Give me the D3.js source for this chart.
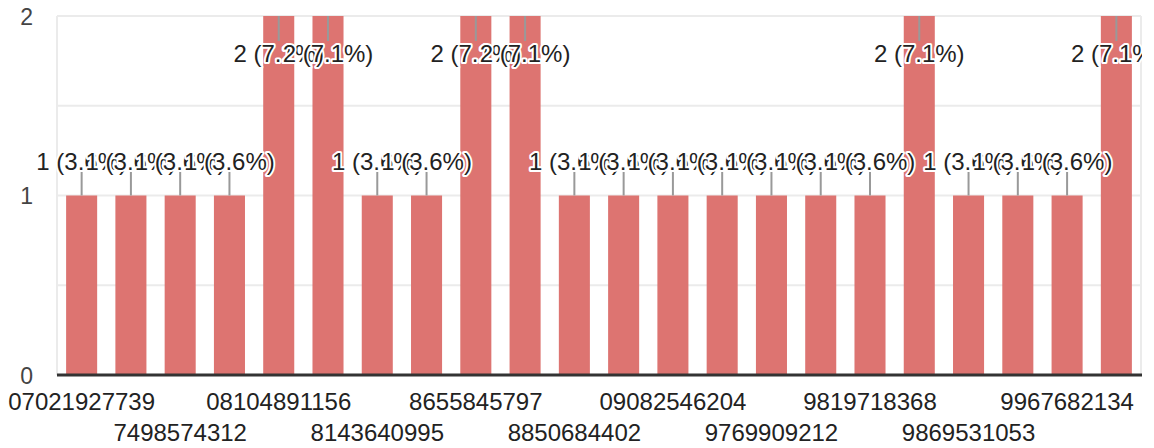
<!DOCTYPE html>
<html>
<head>
<meta charset="utf-8">
<script src="https://cdn.jsdelivr.net/npm/d3@7"></script>
<style>
  html, body { margin: 0; padding: 0; background: #fff; }
  svg { display: block; font-family: "Liberation Sans", Arial, sans-serif; }
</style>
</head>
<body>
<svg id="chart" width="1154" height="448"></svg>
<script>
// ---- data ----
const categories = [
  "07021927739", "7304512869", "7498574312", "7838206145",
  "08104891156", "8120457733", "8143640995", "8409962517",
  "8655845797", "8767301248", "8850684402", "8971240356",
  "09082546204", "9315872046", "9769909212", "9795301826",
  "9819718368", "9840126573", "9869531053", "9911457208",
  "9967682134", "9990321675"
];
const counts = [1, 1, 1, 1, 2, 2, 1, 1, 2, 2, 1, 1, 1, 1, 1, 1, 1, 2, 1, 1, 1, 2];
const yTicks = [0, 1, 2];
const gridValues = [0.5, 1, 1.5, 2];

// ---- layout ----
const W = 1154, H = 448;
const plot = { left: 57, right: 1141, top: 16, bottom: 375 };
const barColor = "#dd7471";

const svg = d3.select("#chart");
const total = d3.sum(counts);
const data = categories.map((c, i) => ({ cat: c, v: counts[i], i }));

const x = d3.scaleBand().domain(categories).range([plot.left, plot.right]).paddingInner(0.37).paddingOuter(0.185);
const y = d3.scaleLinear().domain([0, 2]).range([plot.bottom, plot.top]);

// gridlines
svg.append("g").selectAll("line").data(gridValues).join("line")
  .attr("x1", plot.left).attr("x2", plot.right)
  .attr("y1", d => y(d)).attr("y2", d => y(d))
  .attr("stroke", "#ebebeb").attr("stroke-width", 2);
svg.append("g").selectAll("line").data([plot.left, plot.right]).join("line")
  .attr("x1", d => d).attr("x2", d => d)
  .attr("y1", plot.top).attr("y2", plot.bottom)
  .attr("stroke", "#ebebeb").attr("stroke-width", 2);

// y axis labels
const yAxis = d3.axisLeft(y).tickValues(yTicks).tickFormat(d3.format("d")).tickSize(0).tickPadding(24);
const gy = svg.append("g").attr("transform", `translate(${plot.left},0)`).call(yAxis);
gy.select(".domain").remove();
gy.selectAll("text").attr("font-size", 23).attr("fill", "#444").attr("font-family", "Liberation Sans, Arial, sans-serif").attr("dy", "0.36em");

// bars
svg.append("g").selectAll("rect").data(data).join("rect")
  .attr("x", d => x(d.cat)).attr("width", x.bandwidth())
  .attr("y", d => y(d.v)).attr("height", d => y(0) - y(d.v))
  .attr("fill", barColor);

// baseline
svg.append("line").attr("x1", plot.left).attr("x2", plot.right + 1)
  .attr("y1", plot.bottom).attr("y2", plot.bottom)
  .attr("stroke", "#333").attr("stroke-width", 3);

// x axis labels (every other category, staggered in two rows)
const xAxis = d3.axisBottom(x)
  .tickValues(categories.filter((c, i) => i % 2 === 0))
  .tickSize(0).tickPadding(0);
const gx = svg.append("g").attr("transform", `translate(0,${plot.bottom})`).call(xAxis);
gx.select(".domain").remove();
gx.selectAll("text")
  .attr("font-size", 24).attr("fill", "#222")
  .attr("font-family", "Liberation Sans, Arial, sans-serif")
  .attr("dy", null)
  .attr("y", (d) => (categories.indexOf(d) % 4 === 0 ? 35 : 66));

// annotations
svg.append("defs").append("clipPath").attr("id", "annClip")
  .append("rect").attr("x", 0).attr("y", 0).attr("width", plot.right + 1).attr("height", H);
const ann = svg.append("g").attr("clip-path", "url(#annClip)");
const stemLen = 24;
function inside(d) { return y(d.v) - stemLen - 22 < plot.top; }
ann.append("g").selectAll("line").data(data).join("line")
  .attr("x1", d => x(d.cat) + x.bandwidth() / 2).attr("x2", d => x(d.cat) + x.bandwidth() / 2)
  .attr("y1", d => y(d.v))
  .attr("y2", d => inside(d) ? y(d.v) + stemLen + 1 : y(d.v) - stemLen)
  .attr("stroke", "#999").attr("stroke-width", 2);
ann.append("g").selectAll("text").data(data).join("text")
  .attr("x", d => x(d.cat) + x.bandwidth() / 2)
  .attr("y", d => inside(d) ? y(d.v) + stemLen + 22 : y(d.v) - stemLen - 2)
  .attr("text-anchor", "middle")
  .attr("font-size", 24)
  .attr("fill", "#222")
  .attr("stroke", "#fff").attr("stroke-width", 4).attr("stroke-linejoin", "round")
  .attr("paint-order", "stroke")
  .text(d => `${d.v} (${(d.v / total * 100).toFixed(1)}%)`);
</script>
</body>
</html>
